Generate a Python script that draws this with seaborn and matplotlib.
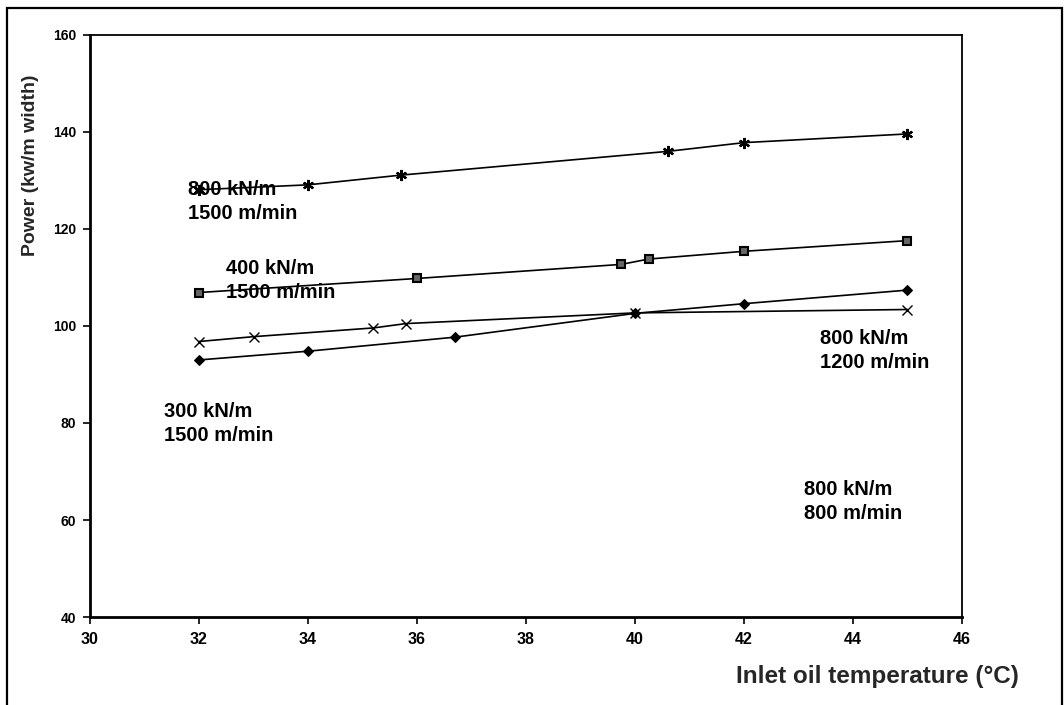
import numpy as np
import pandas as pd
import matplotlib
matplotlib.use("Agg")
import matplotlib.pyplot as plt
import matplotlib.patches as mpatches
import seaborn as sns

# ---- data ----
x_800_1500 = [32, 34, 35.7, 40.6, 42, 45]
y_800_1500 = [128.1, 129.1, 131.1, 136.0, 137.8, 139.6]

x_400_1500 = [32, 36, 39.75, 40.25, 42, 45]
y_400_1500 = [106.9, 109.8, 112.7, 113.8, 115.4, 117.6]

x_800_1200 = [32, 33, 35.2, 35.8, 40, 45]
y_800_1200 = [96.8, 97.8, 99.6, 100.5, 102.7, 103.4]

x_300_1500 = [32, 34, 36.7, 40, 42, 45]
y_300_1500 = [93.0, 94.8, 97.7, 102.6, 104.6, 107.4]

x_ticks = [30, 32, 34, 36, 38, 40, 42, 44, 46]
y_ticks = [40, 60, 80, 100, 120, 140, 160]

labels = ["800 kN/m\n1500 m/min", "400 kN/m\n1500 m/min", "800 kN/m\n1200 m/min",
          "300 kN/m\n1500 m/min", "800 kN/m\n800 m/min"]

sns.set_style("ticks")
plt.rcParams["font.family"] = ["Liberation Sans", "DejaVu Sans"]
plt.rcParams["font.weight"] = "bold"

fig = plt.figure(figsize=(10.64, 7.05), dpi=100)
ax = fig.add_axes([0.0846, 0.1248, 0.9041 - 0.0846, 0.9504 - 0.1248])

lw = 1.2
sns.lineplot(x=x_800_1500, y=y_800_1500, ax=ax, color="black", lw=lw,
             marker=(6, 2, 0), markersize=8, markeredgecolor="black",
             markeredgewidth=1.6, sort=False)
sns.lineplot(x=x_400_1500, y=y_400_1500, ax=ax, color="black", lw=lw,
             marker="s", markersize=6, markerfacecolor="#666666",
             markeredgecolor="black", markeredgewidth=1.5, sort=False)
sns.lineplot(x=x_800_1200, y=y_800_1200, ax=ax, color="black", lw=lw,
             marker="x", markersize=7, markeredgecolor="black",
             markeredgewidth=1.0, sort=False)
sns.lineplot(x=x_300_1500, y=y_300_1500, ax=ax, color="black", lw=lw,
             marker="D", markersize=5, markerfacecolor="black",
             markeredgecolor="black", sort=False)

ax.set_xlim(30, 46)
ax.set_ylim(40, 160)
ax.set_xticks(x_ticks)
ax.set_yticks(y_ticks)
ax.set_xticklabels([str(v) for v in x_ticks], fontsize=11.5, fontweight="bold")
ax.set_yticklabels([str(v) for v in y_ticks], fontsize=10, fontweight="bold")
ax.tick_params(axis="y", direction="out", length=5, width=1.2, pad=5, colors="black")
ax.tick_params(axis="x", direction="out", length=5, width=1.2, pad=6, colors="black")
for s in ax.spines.values():
    s.set_visible(True)
    s.set_color("black")
    s.set_linewidth(1.3)
ax.spines["left"].set_linewidth(2.0)
ax.spines["bottom"].set_linewidth(2.0)

ax.set_ylabel("Power (kw/m width)", fontsize=14, fontweight="bold", va="center")
ax.yaxis.set_label_coords(-0.0677, 0.7766)
ax.set_xlabel("Inlet oil temperature (°C)", fontsize=17.5, fontweight="bold", va="center")
ax.xaxis.set_label_coords(0.9025, -0.103)

# annotations (data coords)
fs = 14.5
ann = [
    (31.8, 130.2, labels[0]),
    (32.5, 113.8, labels[1]),
    (43.4, 99.4, labels[2]),
    (31.35, 84.4, labels[3]),
    (43.1, 68.3, labels[4]),
]
for (tx, ty, t) in ann:
    ax.text(tx, ty, t, fontsize=fs, fontweight="bold", ha="left", va="top",
            linespacing=1.35, color="black")

# outer frame
frame = mpatches.Rectangle((7 / 1064, -0.02), (1062 - 7) / 1064, 0.02 + (705 - 8) / 705,
                           transform=fig.transFigure, fill=False, edgecolor="black",
                           linewidth=1.6, clip_on=False)
fig.patches.append(frame)

fig.savefig("out.png", dpi=100)
